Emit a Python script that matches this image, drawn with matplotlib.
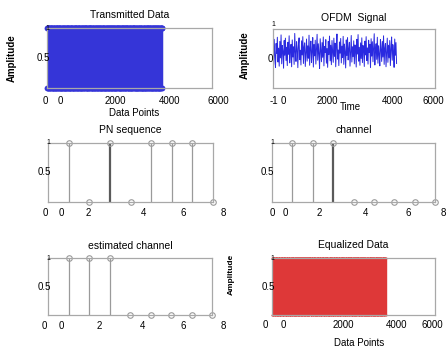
import numpy as np
import matplotlib.pyplot as plt

plt.rcParams['font.family'] = ['Liberation Sans', 'DejaVu Sans']

W, H = 446, 349

# transmitted bits (one stem every 10 data points)
tx_bits = ("1011001110100101101100010111010011011010010111001101001011100101101001"
           "0110100111010010110101100101101001110100101101011001011010011101001011"
           "1101001011010011101011001010110100101110100101101100101101001011100101"
           "0010110101101001011100101101001101011010010110111001010110100101101011"
           "1010010110111001011010010110100111010110100101101001011101001011010010"
           "0101101001011100101101011010010110100111001011010110100101101001110101")
bit_step = 10

ofdm_signal = [
    0.42, -0.21, 0.65, 0.08, -0.30, 0.51, 0.17, 0.72, -0.12, 0.35,
    -0.26, 0.58, 0.02, 0.80, -0.18, 0.44, 0.26, -0.33, 0.61, 0.11,
    0.69, -0.07, 0.38, -0.24, 0.55, 0.14, 0.77, -0.15, 0.31, 0.48,
    -0.28, 0.63, 0.05, 0.40, -0.20, 0.85, 0.22, -0.10, 0.57, 0.33,
    -0.31, 0.46, 0.70, -0.04, 0.28, -0.22, 0.60, 0.12, 0.74, -0.17,
    0.39, 0.53, -0.27, 0.19, 0.66, -0.09, 0.43, 0.01, 0.79, -0.23,
    0.36, 0.59, -0.14, 0.24, 0.71, -0.29, 0.47, 0.09, 0.62, -0.19,
    0.30, 0.82, -0.06, 0.50, 0.16, -0.34, 0.67, 0.27, -0.11, 0.54,
    0.04, 0.73, -0.25, 0.41, 0.20, 0.64, -0.16, 0.34, -0.30, 0.58,
    0.13, 0.76, -0.08, 0.45, -0.21, 0.61, 0.25, -0.13, 0.69, 0.07,
    0.52, -0.28, 0.37, 0.83, -0.02, 0.29, -0.24, 0.56, 0.18, 0.68,
    -0.15, 0.42, 0.03, 0.75, -0.20, 0.49, 0.23, -0.32, 0.63, 0.10,
    0.71, -0.05, 0.33, 0.55, -0.26, 0.21, 0.78, -0.12, 0.40, 0.06,
    0.60, -0.18, 0.46, 0.27, -0.29, 0.65, 0.15, 0.81, -0.09, 0.38,
    -0.23, 0.53, 0.00, 0.70, -0.14, 0.44, 0.31, -0.27, 0.59, 0.12,
    0.74, -0.07, 0.36, -0.19, 0.62, 0.20, 0.48, -0.31, 0.67, 0.08,
    0.57, -0.11, 0.39, 0.84, -0.22, 0.26, 0.50, -0.03, 0.72, -0.16,
    0.43, 0.14, -0.25, 0.64, 0.32, -0.10, 0.58, 0.05, 0.77, -0.20,
    0.35, 0.51, -0.28, 0.18, 0.69, -0.13, 0.45, 0.02, 0.61, -0.24,
    0.30, 0.73, -0.06, 0.47, 0.22, -0.30, 0.66, 0.11, 0.54, -0.17]
ofdm_step = 23

stem_idx = [1, 2, 3, 4, 5, 6, 7, 8]
pn_seq = [1, 0, 1, 0, 1, 1, 1, 0]
channel = [1, 1, 1, 0, 0, 0, 0, 0]
est_channel = [1, 1, 1, 0, 0, 0, 0, 0]

data_xlabels = ['0', '0', '2000', '4000', '6000']
time_xlabels = ['-1', '0', '2000', '4000', '6000']
stem_xlabels = ['0', '0', '2', '4', '6', '8']

bits = np.array([int(c) for c in tx_bits])
bit_x = np.arange(len(bits)) * bit_step
sig = np.array(ofdm_signal)
sig_x = np.arange(len(sig)) * ofdm_step

fig = plt.figure(figsize=(W / 100, H / 100), dpi=100)


def make_ax(l, t, r, b):
    ax = fig.add_axes([l / W, 1 - b / H, (r - l) / W, (b - t) / H])
    for s in ax.spines.values():
        s.set_color('#a8a8a8')
        s.set_linewidth(0.9)
    ax.set_xticks([])
    ax.set_yticks([])
    return ax


def put(ax, fx, fy, s, dx=0, dy=0, ha='center', **kw):
    kw.setdefault('fontsize', 7)
    ax.annotate(s, (fx, fy), xycoords='axes fraction', xytext=(dx, dy),
                textcoords='offset pixels', ha=ha, va='center',
                annotation_clip=False, **kw)


def xrow(ax, fracs, labels, dy):
    for f, s in zip(fracs, labels):
        put(ax, f, 0, s, dy=-dy)


def bit_stem(ax, color, ms, lw):
    m, st, b = ax.stem(bit_x, bits, basefmt=' ')
    st.set_color(color)
    st.set_linewidth(lw)
    m.set_color(color)
    m.set_markersize(ms)
    m.set_markeredgewidth(0)
    m.set_clip_on(False)
    ax.set_xlim(0, 6000)
    ax.set_ylim(0, 1)


def small_stem(ax, vals, heavy=None):
    m, st, b = ax.stem(stem_idx, vals, basefmt=' ')
    lw = [0.9] * len(vals)
    cols = ['#9a9a9a'] * len(vals)
    if heavy is not None:
        lw[heavy] = 1.6
        cols[heavy] = '#5a5a5a'
    st.set_linewidths(lw)
    st.set_colors(cols)
    m.set_markerfacecolor('none')
    m.set_markeredgecolor('#9a9a9a')
    m.set_markersize(4)
    m.set_markeredgewidth(0.8)
    m.set_clip_on(False)
    ax.set_xlim(0, 8)
    ax.set_ylim(0, 1)


# Transmitted Data
ax1 = make_ax(47, 28, 212, 88)
bit_stem(ax1, '#3535d8', 4.2, 0.9)
put(ax1, 0.5, 1, 'Transmitted Data', dy=13, fontsize=7.5)
xrow(ax1, [-0.012, 0.079, 0.412, 0.745, 1.036], data_xlabels, 13)
put(ax1, 0.5, 0, 'Data Points', dx=5, dy=-25)
put(ax1, 0, 0.5, '0.5', dx=3, ha='right')
put(ax1, 0, 1, '1', fontsize=5)
put(ax1, 0, 0.5, 'Amplitude', dx=-35, rotation=90, fontweight='bold')

# OFDM Signal
ax2 = make_ax(273, 29, 435, 88)
ax2.plot(sig_x, sig, color='#2a2ae0', lw=0.7)
ax2.set_xlim(0, 6000)
ax2.set_ylim(-1, 1)
put(ax2, 0.5, 1, 'OFDM  Signal', dy=11, fontsize=7.5)
xrow(ax2, [0.005, 0.065, 0.333, 0.735, 0.99], time_xlabels, 13)
put(ax2, 0.5, 0, 'Time', dx=-4, dy=-19)
put(ax2, 0, 0.5, '0', dx=-3)
put(ax2, 0, 1, '1', dy=4, fontsize=5)
put(ax2, 0, 0.5, 'Amplitude', dx=-28, dy=3, rotation=90, fontweight='bold')

# PN sequence
ax3 = make_ax(48, 143, 213, 202)
small_stem(ax3, pn_seq, heavy=2)
put(ax3, 0.5, 1, 'PN sequence', dy=13, fontsize=7.5)
xrow(ax3, [-0.018, 0.079, 0.242, 0.576, 0.818, 1.06], stem_xlabels, 11)
put(ax3, 0, 0.5, '0.5', dx=3, ha='right')
put(ax3, 0, 1, '1', fontsize=5)

# channel
ax4 = make_ax(272, 143, 435, 202)
small_stem(ax4, channel, heavy=2)
put(ax4, 0.5, 1, 'channel', dy=13, fontsize=7.5)
xrow(ax4, [0.0, 0.08, 0.288, 0.571, 0.834, 1.05], stem_xlabels, 11)
put(ax4, 0, 0.5, '0.5', dx=2, ha='right')
put(ax4, 0, 1, '1', fontsize=5)

# estimated channel
ax5 = make_ax(48, 258, 212, 315)
small_stem(ax5, est_channel)
put(ax5, 0.5, 1, 'estimated channel', dy=12, fontsize=7.5)
xrow(ax5, [-0.024, 0.079, 0.311, 0.579, 0.823, 1.067], stem_xlabels, 11)
put(ax5, 0, 0.5, '0.5', dx=3, ha='right')
put(ax5, 0, 1, '1', fontsize=5)

# Equalized Data
ax6 = make_ax(272, 258, 435, 315)
bit_stem(ax6, '#de3838', 1.5, 1.0)
put(ax6, 0.5, 1, 'Equalized Data', dy=13, fontsize=7.5)
xrow(ax6, [-0.043, 0.067, 0.436, 0.767, 0.985], data_xlabels, 10)
put(ax6, 0.5, 0, 'Data Points', dx=6, dy=-28)
put(ax6, 0, 0.5, '0.5', dx=3, ha='right')
put(ax6, 0, 1, '1', fontsize=5)
put(ax6, 0, 0.5, 'Amplitude', dx=-41, dy=12, rotation=90, fontweight='bold',
    fontsize=6)

fig.savefig('out.png', dpi=100)
